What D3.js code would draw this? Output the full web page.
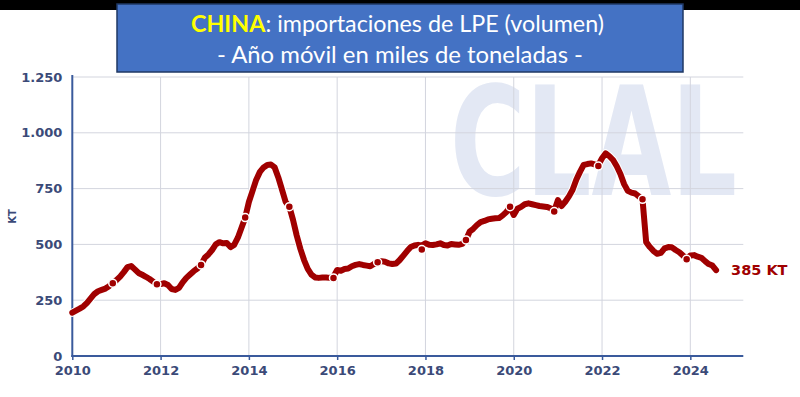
<!DOCTYPE html>
<html>
<head>
<meta charset="utf-8">
<script src="https://cdn.jsdelivr.net/npm/d3@7"></script>
<style>
  html, body { margin: 0; padding: 0; background: #fff; }
  svg { display: block; }
</style>
</head>
<body>
<div id="chart"></div>
<script>
// monthly rolling-year volume (KT), Jan 2010 .. Aug 2024
const startYear = 2010;
const values = [
  194, 203, 212, 222, 238, 258, 278, 290, 296, 302, 313, 326,   // 2010
  340, 356, 376, 398, 403, 388, 372, 364, 355, 345, 333, 321,   // 2011
  322, 326, 318, 300, 296, 305, 330, 350, 365, 380, 392, 408,   // 2012
  440, 455, 475, 500, 510, 505, 506, 488, 498, 530, 575, 620,   // 2013
  690, 740, 790, 825, 845, 856, 858, 845, 800, 745, 690, 669,   // 2014
  610, 540, 480, 430, 390, 365, 352, 350, 352, 352, 350, 355,   // 2015
  385, 382, 390, 392, 402, 408, 412, 408, 405, 402, 412, 420,   // 2016
  425, 422, 415, 412, 414, 430, 450, 470, 488, 495, 498, 495,   // 2017
  505, 498, 497, 500, 505, 497, 495, 502, 500, 498, 502, 520,   // 2018
  557, 570, 587, 600, 605, 612, 615, 617, 618, 630, 645, 669,   // 2019
  632, 660, 668, 680, 684, 680, 676, 672, 670, 668, 662, 650,   // 2020
  698, 672, 691, 715, 745, 790, 825, 856, 860, 863, 858, 855,   // 2021
  886, 908, 895, 878, 850, 815, 770, 740, 732, 728, 715, 702,   // 2022
  510, 488, 470, 458, 462, 482, 488, 487, 475, 465, 450, 435,   // 2023
  450, 452, 445, 440, 425, 412, 405, 385                        // 2024
];
// December markers
const markerYears = [2010, 2011, 2012, 2013, 2014, 2015, 2016, 2017, 2018, 2019, 2020, 2021, 2022, 2023];
const markerValues = [326, 321, 408, 620, 669, 350, 420, 477, 520, 669, 647, 851, 702, 433];
const yTicks = [0, 250, 500, 750, 1000, 1250];
const xTicks = [2010, 2012, 2014, 2016, 2018, 2020, 2022, 2024];
const lastLabel = "385 KT";

const W = 800, H = 397;
const axisColor = "#3a5a9c", labelColor = "#3b4a78", gridColor = "#d3d5de", lineColor = "#a00000";

const svg = d3.select("#chart").append("svg")
  .attr("width", W).attr("height", H);

svg.append("rect").attr("width", W).attr("height", H).attr("fill", "#fff");
svg.append("rect").attr("width", W).attr("height", 10).attr("fill", "#000");

const x = d3.scaleLinear().domain([2010, 2025.2]).range([72.3, 743.3]);
const y = d3.scaleLinear().domain([0, 1250]).range([356, 77]);

const data = values.map((v, i) => ({ t: startYear + i / 12, v: v }));
const markers = markerYears.map((yr, i) => ({ t: yr + 11 / 12, v: markerValues[i] }));

// watermark
svg.append("text")
  .attr("x", 450).attr("y", 195)
  .attr("textLength", 287).attr("lengthAdjust", "spacingAndGlyphs")
  .style("font-family", "DejaVu Sans").style("font-weight", "bold")
  .style("font-size", "152px").style("fill", "#e3e8f4")
  .text("CLAL");

// grid
svg.append("g").selectAll("line.h")
  .data(yTicks.filter(d => d > 0))
  .enter().append("line")
  .attr("x1", x(2010)).attr("x2", x(2025.2))
  .attr("y1", d => y(d)).attr("y2", d => y(d))
  .style("stroke", gridColor).style("stroke-width", 1);
svg.append("g").selectAll("line.v")
  .data(xTicks.filter(d => d > 2010))
  .enter().append("line")
  .attr("x1", d => x(d)).attr("x2", d => x(d))
  .attr("y1", y(1250)).attr("y2", y(0))
  .style("stroke", gridColor).style("stroke-width", 1);

// axes
const fmt = d3.formatLocale({ decimal: ",", thousands: ".", grouping: [3], currency: ["", ""] }).format(",d");

const yAxis = svg.append("g")
  .attr("transform", `translate(${x(2010)},0)`)
  .call(d3.axisLeft(y).tickValues(yTicks).tickFormat(fmt).tickSize(0).tickPadding(10));
const xAxis = svg.append("g")
  .attr("transform", `translate(0,${y(0)})`)
  .call(d3.axisBottom(x).tickValues(xTicks).tickFormat(d3.format("d")).tickSize(4).tickPadding(6));

[yAxis, xAxis].forEach(g => {
  g.select(".domain").style("stroke", axisColor).style("stroke-width", 2);
  g.selectAll(".tick line").style("stroke", axisColor).style("stroke-width", 1.5);
  g.selectAll(".tick text")
    .style("font-family", "DejaVu Sans").style("font-weight", "bold")
    .style("font-size", "13px").style("fill", labelColor);
});
yAxis.select(".domain").attr("d", `M0,${y(1250) - 2}V${y(0) + 1}`);
xAxis.select(".domain").attr("d", `M${x(2010) - 1},0H${x(2025.2)}`);

svg.append("text")
  .attr("transform", `translate(16,${(y(0) + y(1250)) / 2}) rotate(-90)`)
  .attr("text-anchor", "middle")
  .style("font-family", "DejaVu Sans").style("font-weight", "bold")
  .style("font-size", "10px").style("fill", labelColor)
  .text("KT");

// series
const line = d3.line().x(d => x(d.t)).y(d => y(d.v));
svg.append("path").datum(data).attr("d", line)
  .style("fill", "none").style("stroke", "#fff").style("stroke-width", 8)
  .style("stroke-linejoin", "round").style("stroke-linecap", "round");
svg.append("path").datum(data).attr("d", line)
  .style("fill", "none").style("stroke", lineColor).style("stroke-width", 6)
  .style("stroke-linejoin", "round").style("stroke-linecap", "round");

svg.append("g").selectAll("circle")
  .data(markers).enter().append("circle")
  .attr("cx", d => x(d.t)).attr("cy", d => y(d.v)).attr("r", 4)
  .style("fill", lineColor).style("stroke", "#fff").style("stroke-width", 1.5);

const last = data[data.length - 1];
svg.append("text")
  .attr("x", x(last.t) + 15).attr("y", y(last.v) + 1)
  .attr("dominant-baseline", "middle")
  .style("font-family", "DejaVu Sans").style("font-weight", "bold")
  .style("font-size", "14.5px").style("fill", lineColor)
  .text(lastLabel);

// title box
svg.append("rect")
  .attr("x", 117).attr("y", 4).attr("width", 566).attr("height", 68)
  .style("fill", "#4472c4").style("stroke", "#1f3864").style("stroke-width", 1.5);

const t1 = svg.append("text")
  .attr("x", 191).attr("y", 32)
  .attr("textLength", 413).attr("lengthAdjust", "spacingAndGlyphs")
  .style("font-family", "Lato").style("font-size", "23px").style("fill", "#fff");
t1.append("tspan").style("fill", "#ffff00").style("font-weight", "bold").text("CHINA");
t1.append("tspan").text(": importaciones de LPE (volumen)");

svg.append("text")
  .attr("x", 217).attr("y", 62.5)
  .attr("textLength", 366).attr("lengthAdjust", "spacingAndGlyphs")
  .style("font-family", "Lato").style("font-size", "23px").style("fill", "#fff")
  .text("- Año móvil en miles de toneladas -");
</script>
</body>
</html>
